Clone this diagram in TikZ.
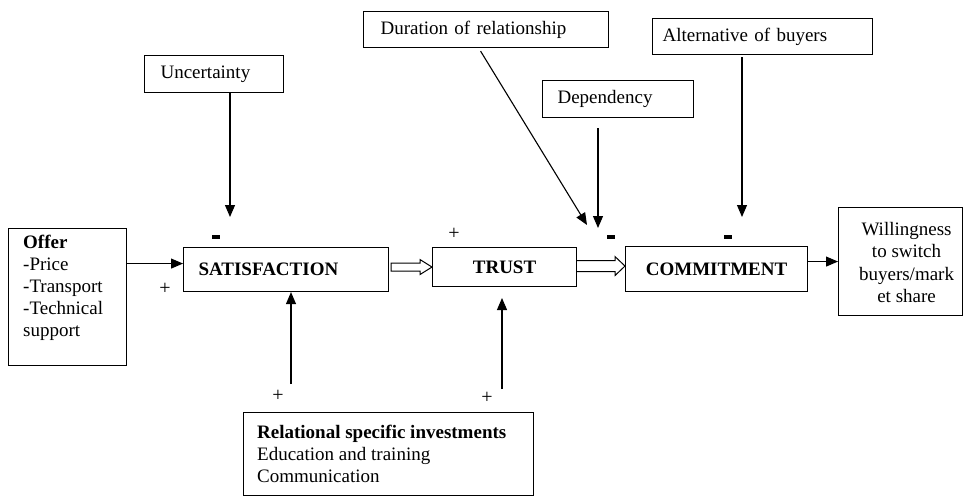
\documentclass[tikz,border=0pt]{standalone}
\usepackage{fontspec}
\setmainfont{Liberation Serif}
\usetikzlibrary{arrows.meta,calc}
\begin{document}
\begin{tikzpicture}[x=1pt,y=-1pt,
  txt/.style={font=\fontsize{19}{22}\selectfont, inner sep=0pt},
  box/.style={draw, line width=1.1pt, rectangle, inner sep=0pt, anchor=north west, txt},
  arr/.style={line width=1.1pt, -{Triangle[length=12pt,width=10pt]}},
  hollow/.style={line width=1pt, fill=white},
  minus/.style={fill=black, inner sep=0pt, minimum width=7.5, minimum height=3.5},
  sign/.style={font=\fontsize{20}{22}\selectfont, inner sep=0pt}
]
\useasboundingbox (0,0) rectangle (964,500);

% boxes
\node[box, minimum width=118, minimum height=137] (offer) at (8,228) {};
\node[txt, anchor=north west, align=left] (offertxt) at ($(offer.north west)+(15,6.5)$)
  {\textbf{Offer}\\-Price\\-Transport\\-Technical\\support};

\node[box, minimum width=205, minimum height=44, text width=175, inner xsep=15, align=left] (sat) at (183,247) {\textbf{SATISFACTION}};
\node[box, minimum width=144, minimum height=39, align=center] (trust) at (432,247) {\textbf{TRUST}};
\node[box, minimum width=182, minimum height=45, align=center] (comm) at (625,246) {\textbf{COMMITMENT}};
\node[box, minimum width=124, minimum height=108] (will) at (838,207) {};
\node[txt, align=center, font=\fontsize{19}{22.5}\selectfont] (willtxt) at ($(will.center)+(6,1)$) {Willingness\\to switch\\buyers/mark\\et share};

\node[box, minimum width=139, minimum height=37, text width=107, inner xsep=16, align=left] (unc) at (144,55) {Uncertainty};
\node[box, minimum width=245, minimum height=36, text width=211, inner xsep=17, align=left] (dur) at (363,11) {Duration of relationship};
\node[box, minimum width=151, minimum height=37, text width=121, inner xsep=15, align=left] (dep) at (542,80) {Dependency};
\node[box, minimum width=220, minimum height=36, text width=200, inner xsep=10, align=left] (alt) at (652,18) {Alternative of buyers};

\node[box, minimum width=290, minimum height=83] (rel) at (243,412) {};
\node[txt, anchor=north west, align=left] (reltxt) at ($(rel.north west)+(14,12.5)$)
  {\textbf{Relational specific investments}\\Education and training\\Communication};

% coordinates for free ends
\coordinate (uncend) at (230,217);
\coordinate (durend) at (587,225);
\coordinate (depend) at (598,228);
\coordinate (altend) at (742,217);
\coordinate (relsat) at (291,384);
\coordinate (reltrust) at (502,389);
\coordinate (trusttip) at (502,298);
\coordinate (offy) at ($(sat.west)+(0,-6)$);
\coordinate (tc) at ($(comm.west)+(0,-3)$);

% arrows
\draw[arr] (offer.east |- offy) -- (offy);
\draw[arr] (comm.east |- will.west) -- (will.west);
\draw[arr] (unc.south -| uncend) -- (uncend);
\draw[arr] ($(dur.south)+(-5.5,3)$) -- (durend);
\draw[arr] ($(dep.south -| depend)+(0,10)$) -- (depend);
\draw[arr] ($(alt.south -| altend)+(0,2)$) -- (altend);
\draw[arr] (relsat) -- (relsat |- sat.south);
\draw[arr] (reltrust) -- (trusttip);

% hollow arrows
\draw[hollow] ($(sat.east |- trust.west)+(2,-4)$) -- ($(trust.west)+(-12,-4)$) -- ($(trust.west)+(-12,-7.5)$) -- (trust.west) -- ($(trust.west)+(-12,7.5)$) -- ($(trust.west)+(-12,4)$) -- ($(sat.east |- trust.west)+(2,4)$) -- cycle;
\draw[hollow] ($(trust.east |- tc)+(0,-5.5)$) -- ($(tc)+(-10,-5.5)$) -- ($(tc)+(-10,-9.5)$) -- (tc) -- ($(tc)+(-10,9.5)$) -- ($(tc)+(-10,5.5)$) -- ($(trust.east |- tc)+(0,5.5)$);

% signs
\node[minus] (m1) at (216,237) {};
\node[minus] (m2) at (611,237) {};
\node[minus] (m3) at (728,237) {};
\node[sign] (p1) at (165,289) {+};
\node[sign] (p2) at (454,234) {+};
\node[sign] (p3) at (278,396) {+};
\node[sign] (p4) at (487,398) {+};
\end{tikzpicture}
\end{document}
